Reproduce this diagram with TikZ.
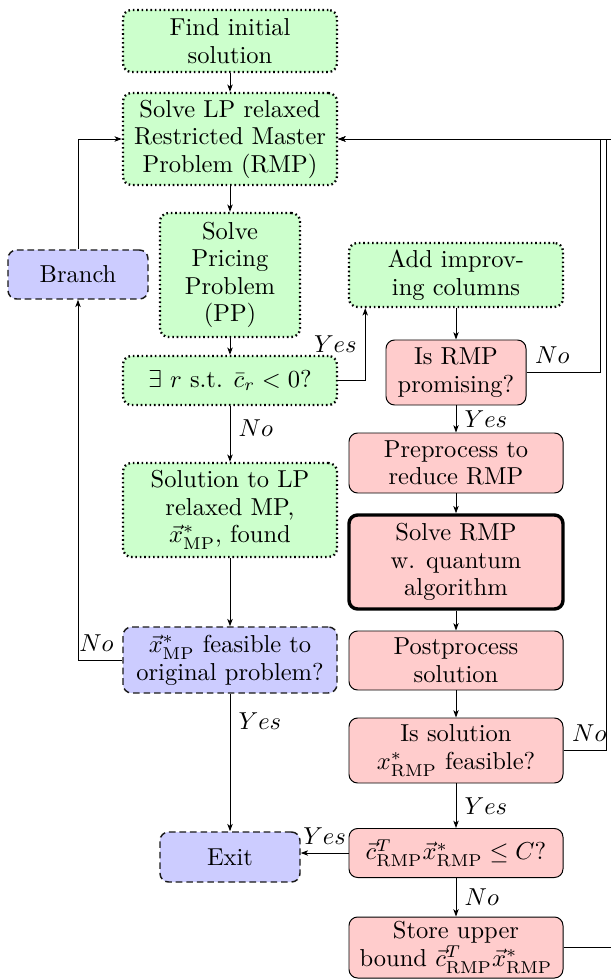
\documentclass[tikz,border=0pt]{standalone}
\usetikzlibrary{arrows.meta}
\begin{document}
\begin{tikzpicture}[x=0.40816pt, y=-0.40816pt,
  every node/.style={font=\fontsize{10}{11.25}\selectfont},
  base/.style={rounded corners=3.5pt, align=center, inner sep=0pt, minimum width=214*0.40816pt},
  narrow/.style={minimum width=140*0.40816pt},
  ht/.style={minimum height=#1*0.40816pt},
  gbox/.style={base, fill=green!20, draw=black, line width=0.95pt, dash pattern=on 0.65pt off 1.15pt},
  bbox/.style={base, fill=blue!20, draw=black!90, semithick, dash pattern=on 2.7pt off 1.6pt},
  rbox/.style={base, fill=red!20, draw=black},
  arr/.style={-{Stealth[length=3pt,width=2.2pt,inset=0.8pt]}}
]
\useasboundingbox (0,0) rectangle (611,979);
\clip (0,0) rectangle (611,979);

\coordinate (r1) at (600,0);
\coordinate (r2) at (606.5,0);
\coordinate (r3) at (613,0);

\node[gbox, ht=62] (find) at (230,41) {Find initial\\solution};
\node[gbox, ht=92] (rmp) at (230,139) {Solve LP relaxed\\Restricted Master\\Problem (RMP)};
\node[gbox, narrow, ht=124] (pp) at (230,275) {Solve\\Pricing\\Problem\\(PP)};
\node[bbox, narrow, ht=49] (branch) at (78,274.5) {Branch};
\node[gbox, ht=64] (add) at (456,275) {Add improv-\\ing columns};
\node[gbox, ht=49] (ex) at (230,380.5) {$\exists~r$ s.t. $\bar{c}_r<0$?};
\node[rbox, narrow, ht=65] (isrmp) at (456,372.5) {Is RMP\\promising?};
\node[rbox, ht=60] (pre) at (456,463) {Preprocess to\\reduce RMP};
\node[gbox, ht=94] (sollp) at (230,510) {Solution to LP\\relaxed MP,\\$\vec{x}^*_{\mathrm{MP}}$, found};
\node[rbox, line width=1.4pt, ht=94] (qa) at (456,562) {Solve RMP\\w. quantum\\algorithm};
\node[bbox, ht=66] (xmp) at (230,660) {$\vec{x}^*_{\mathrm{MP}}$ feasible to\\original problem?};
\node[rbox, ht=59] (post) at (456,660.5) {Postprocess\\solution};
\node[rbox, ht=65] (issol) at (456,750.5) {Is solution\\$x^*_{\mathrm{RMP}}$ feasible?};
\node[bbox, narrow, ht=50] (exit) at (230,857) {Exit};
\node[rbox, ht=49] (ct) at (456,853) {$\vec{c}^T_{\mathrm{RMP}}\vec{x}^*_{\mathrm{RMP}}\leq C$?};
\node[rbox, ht=61] (store) at (456,947.5) {Store upper\\bound $\vec{c}^T_{\mathrm{RMP}}\vec{x}^*_{\mathrm{RMP}}$};

\draw[arr] (find) -- (rmp);
\draw[arr] (rmp) -- (pp);
\draw[arr] (pp) -- (ex);
\draw[arr] (ex.east) -| node[pos=0.75, left] {$Yes$} ([xshift=7.1pt]add.south west);
\draw[arr] (add) -- (isrmp);
\draw[arr] (isrmp) -- node[right] {$Yes$} (pre);
\draw[arr] (isrmp.east) node[above right] {$No$} -- (r1 |- isrmp.east) |- (rmp.east);
\draw[arr] (pre) -- (qa);
\draw[arr] (qa) -- (post);
\draw[arr] (post) -- (issol);
\draw[arr] (issol.east) node[above right] {$No$} -- (r2 |- issol.east) |- (rmp.east);
\draw[arr] (issol) -- node[right] {$Yes$} (ct);
\draw[arr] (ct.west) -- node[above] {$Yes$} (exit.east |- ct.west);
\draw[arr] (ct) -- node[right] {$No$} (store);
\draw[arr] (store.east) -- (r3 |- store.east) |- (rmp.east);
\draw[arr] (ex) -- node[pos=0.4, right] {$No$} (sollp);
\draw[arr] (sollp) -- (xmp);
\draw[arr] (xmp) -- node[pos=0.2, right] {$Yes$} (exit);
\draw[arr] (xmp.west) node[above left] {$No$} -| (branch.south);
\draw[arr] (branch.north) |- (rmp.west);
\end{tikzpicture}
\end{document}
